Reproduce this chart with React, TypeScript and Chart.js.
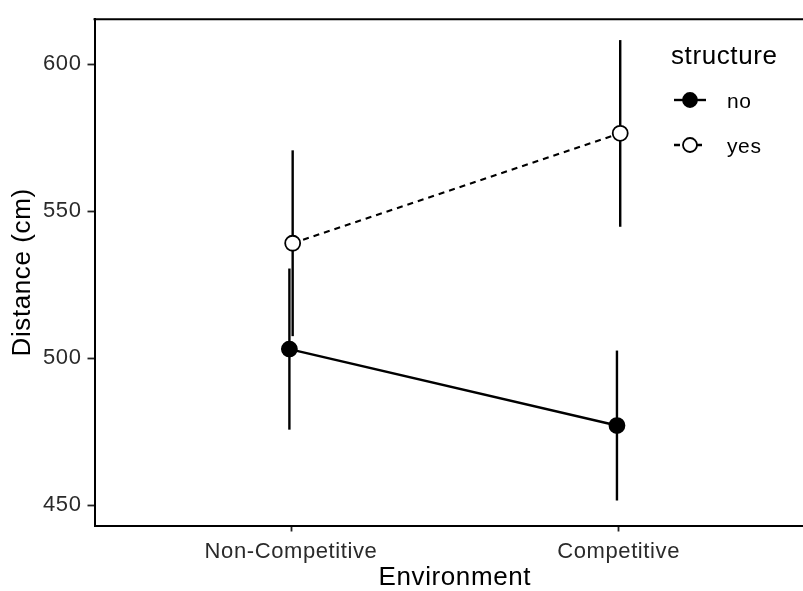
import { useEffect, useRef } from 'react';
import { Chart, registerables } from 'chart.js';

Chart.register(...registerables);

// ---- data ----
const categories = ['Non-Competitive', 'Competitive'];
const categoryPositions = [1, 2];
const legendTitle = 'structure';
const seriesNames = ['no', 'yes'];
const dodgeOffsets = [-0.005, 0.005];
const noMeans = [503.1, 477.1];
const noLower = [475.7, 451.6];
const noUpper = [530.5, 502.6];
const yesMeans = [539.1, 576.5];
const yesLower = [507.5, 544.7];
const yesUpper = [570.7, 608.2];
const yTicks = [450, 500, 550, 600];
const yLimits = [443.1, 615.3];
// panel is cropped on the right in the source image
const xLimits = [0.4, 2.563];
const xTitle = 'Environment';
const yTitle = 'Distance (cm)';

const FONT = '"Liberation Sans", Arial, Helvetica, sans-serif';
const SPACING = '0.6px';
const CANVAS_W = 803;
const CANVAS_H = 591;

function setSpacing(ctx: any) {
  try {
    ctx.letterSpacing = SPACING;
  } catch (e) {
    /* ignore */
  }
}

const spacingPlugin = {
  id: 'spacing',
  beforeLayout(chart: any) {
    setSpacing(chart.ctx);
  },
  beforeDraw(chart: any) {
    setSpacing(chart.ctx);
  },
};

const errorBarPlugin = {
  id: 'errorBars',
  beforeDatasetsDraw(chart: any) {
    const { ctx, scales } = chart;
    const xs = scales.x;
    const ys = scales.y;
    ctx.save();
    ctx.strokeStyle = '#000';
    ctx.lineWidth = 2.4;
    ctx.lineCap = 'butt';
    chart.data.datasets.forEach((ds: any) => {
      ds.data.forEach((pt: any, i: number) => {
        const px = xs.getPixelForValue(pt.x);
        ctx.beginPath();
        ctx.moveTo(px, ys.getPixelForValue(ds.errLow[i]));
        ctx.lineTo(px, ys.getPixelForValue(ds.errHigh[i]));
        ctx.stroke();
      });
    });
    ctx.restore();
  },
};

const framePlugin = {
  id: 'frameTop',
  afterDraw(chart: any) {
    const { ctx, chartArea, scales } = chart;
    ctx.save();
    ctx.strokeStyle = '#000';
    ctx.lineWidth = 2;
    ctx.beginPath();
    ctx.moveTo(chartArea.left - 1, chartArea.top);
    ctx.lineTo(chartArea.right, chartArea.top);
    ctx.stroke();
    // x-axis title, centred on the (uncropped) panel like ggplot
    setSpacing(ctx);
    ctx.fillStyle = '#000';
    ctx.font = `26px ${FONT}`;
    ctx.textAlign = 'center';
    ctx.textBaseline = 'middle';
    const cx = scales.x.getPixelForValue(
      (categoryPositions[0] + categoryPositions[categoryPositions.length - 1]) / 2
    );
    ctx.fillText(xTitle, cx, chart.height - 13);
    ctx.restore();
  },
};

const legendPlugin = {
  id: 'ggLegend',
  afterDraw(chart: any) {
    const { ctx } = chart;
    ctx.save();
    setSpacing(ctx);
    ctx.fillStyle = '#000';
    ctx.font = `26px ${FONT}`;
    ctx.textAlign = 'left';
    ctx.textBaseline = 'alphabetic';
    ctx.fillText(legendTitle, 671, 64);
    chart.data.datasets.forEach((ds: any, i: number) => {
      const y = 100 + i * 45;
      ctx.strokeStyle = '#000';
      ctx.lineWidth = 2.4;
      ctx.setLineDash(ds.borderDash || []);
      ctx.beginPath();
      ctx.moveTo(674, y);
      ctx.lineTo(706, y);
      ctx.stroke();
      ctx.setLineDash([]);
      ctx.beginPath();
      ctx.arc(690, y, 7, 0, Math.PI * 2);
      ctx.fillStyle = ds.pointBackgroundColor;
      ctx.fill();
      ctx.lineWidth = 1.8;
      ctx.strokeStyle = '#000';
      ctx.stroke();
      ctx.fillStyle = '#000';
      ctx.font = `21px ${FONT}`;
      ctx.textBaseline = 'middle';
      ctx.fillText(ds.label, 727, y + 2);
    });
    ctx.restore();
  },
};

export default function App() {
  const canvasRef = useRef<HTMLCanvasElement | null>(null);

  useEffect(() => {
    if (!canvasRef.current) return;
    Chart.defaults.font.family = FONT;
    const makeData = (means: number[], s: number) =>
      categoryPositions.map((p, i) => ({ x: p + dodgeOffsets[s], y: means[i] }));

    const chart = new Chart(canvasRef.current, {
      type: 'line',
      data: {
        datasets: [
          {
            label: seriesNames[0],
            data: makeData(noMeans, 0),
            errLow: noLower,
            errHigh: noUpper,
            borderColor: '#000',
            borderWidth: 2.4,
            pointRadius: 7.5,
            pointHoverRadius: 7.5,
            pointBackgroundColor: '#000',
            pointBorderColor: '#000',
            pointBorderWidth: 1.8,
            fill: false,
            tension: 0,
          } as any,
          {
            label: seriesNames[1],
            data: makeData(yesMeans, 1),
            errLow: yesLower,
            errHigh: yesUpper,
            borderColor: '#000',
            borderWidth: 2.2,
            borderDash: [6, 5],
            pointRadius: 7.5,
            pointHoverRadius: 7.5,
            pointBackgroundColor: '#fff',
            pointBorderColor: '#000',
            pointBorderWidth: 1.8,
            fill: false,
            tension: 0,
          } as any,
        ],
      },
      options: {
        animation: false,
        responsive: false,
        maintainAspectRatio: false,
        devicePixelRatio: 1,
        layout: { autoPadding: false, padding: { top: 12, right: 0, bottom: 0, left: 0 } },
        plugins: {
          legend: { display: false },
          tooltip: { enabled: false },
          title: { display: false },
        },
        scales: {
          x: {
            type: 'linear',
            min: xLimits[0],
            max: xLimits[1],
            afterBuildTicks: (scale: any) => {
              scale.ticks = categoryPositions.map((v) => ({ value: v }));
            },
            afterFit: (scale: any) => {
              scale.height = 65.5;
            },
            ticks: {
              autoSkip: false,
              maxRotation: 0,
              minRotation: 0,
              padding: 7,
              color: '#2a2a2a',
              font: { size: 22, family: FONT },
              callback: (v: any) => {
                const idx = categoryPositions.indexOf(Number(v));
                return idx >= 0 ? categories[idx] : '';
              },
            },
            grid: {
              display: true,
              drawOnChartArea: false,
              drawTicks: true,
              tickLength: 6,
              tickColor: '#222',
              tickWidth: 1.8,
            },
            border: { display: true, color: '#000', width: 2 },
            title: { display: false },
          },
          y: {
            type: 'linear',
            min: yLimits[0],
            max: yLimits[1],
            afterBuildTicks: (scale: any) => {
              scale.ticks = yTicks.map((v) => ({ value: v }));
            },
            afterFit: (scale: any) => {
              scale.width = 94.5;
            },
            ticks: {
              padding: 6,
              color: '#2a2a2a',
              font: { size: 22, family: FONT },
            },
            grid: {
              display: true,
              drawOnChartArea: false,
              drawTicks: true,
              tickLength: 7,
              tickColor: '#222',
              tickWidth: 1.8,
            },
            border: { display: true, color: '#000', width: 2 },
            title: {
              display: true,
              text: yTitle,
              color: '#000',
              font: { size: 26, family: FONT, lineHeight: 1 },
              padding: { top: 10, bottom: 0 },
            },
          },
        },
      } as any,
      plugins: [spacingPlugin, errorBarPlugin, framePlugin, legendPlugin],
    });
    return () => chart.destroy();
  }, []);

  return (
    <div
      style={{
        position: 'fixed',
        left: 0,
        top: 0,
        width: 803,
        height: 591,
        overflow: 'hidden',
        background: '#fff',
      }}
    >
      <canvas
        ref={canvasRef}
        width={CANVAS_W}
        height={CANVAS_H}
        style={{ display: 'block', width: CANVAS_W, height: CANVAS_H }}
      />
    </div>
  );
}
